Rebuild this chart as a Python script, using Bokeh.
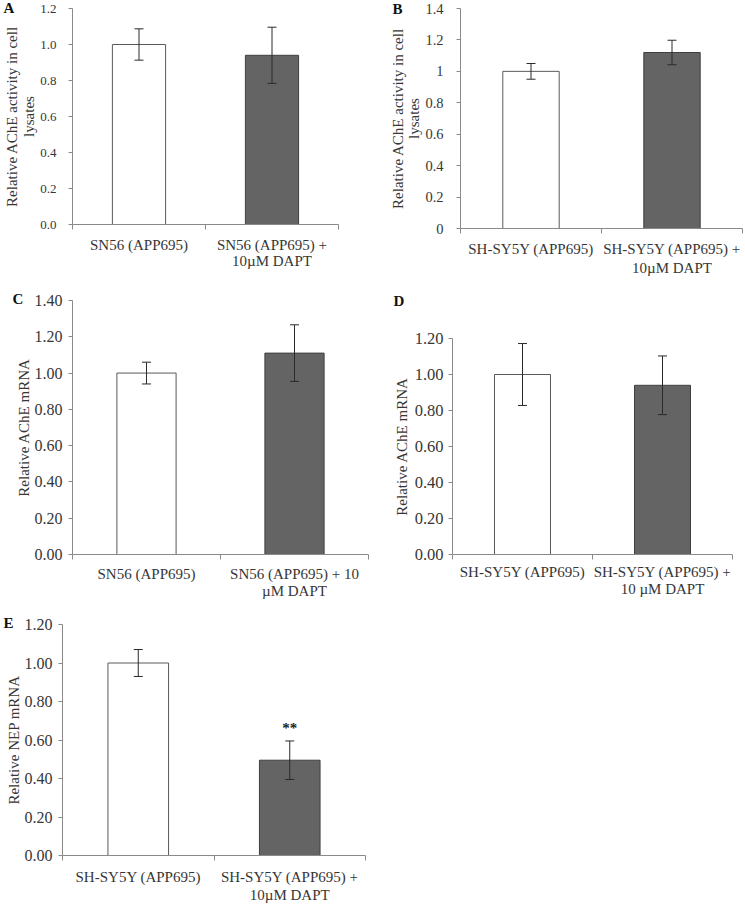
from bokeh.plotting import figure
from bokeh.layouts import column, row
from bokeh.models import (Range1d, FixedTicker, Whisker, TeeHead, ColumnDataSource,
                          PrintfTickFormatter, NumeralTickFormatter)
from bokeh.core.properties import value
from bokeh.embed import file_html
from bokeh.resources import INLINE

# ---------------- data ----------------
cats_a = ["SN56 (APP695)", "SN56 (APP695) +\n10µM DAPT"]
vals_a = [1.00, 0.94]
errs_a = [0.087, 0.156]
yticks_a = [0.0, 0.2, 0.4, 0.6, 0.8, 1.0, 1.2]

cats_b = ["SH-SY5Y (APP695)", "SH-SY5Y (APP695) +\n10µM DAPT"]
vals_b = [1.00, 1.12]
errs_b = [0.050, 0.078]
yticks_b = [0.0, 0.2, 0.4, 0.6, 0.8, 1.0, 1.2, 1.4]

cats_c = ["SN56 (APP695)", "SN56 (APP695) + 10\nµM DAPT"]
vals_c = [1.00, 1.11]
errs_c = [0.060, 0.156]
yticks_c = [0.0, 0.2, 0.4, 0.6, 0.8, 1.0, 1.2, 1.4]

cats_d = ["SH-SY5Y (APP695)", "SH-SY5Y (APP695) +\n10 µM DAPT"]
vals_d = [1.00, 0.94]
errs_d = [0.172, 0.163]
yticks_d = [0.0, 0.2, 0.4, 0.6, 0.8, 1.0, 1.2]

cats_e = ["SH-SY5Y (APP695)", "SH-SY5Y (APP695) +\n10µM DAPT"]
vals_e = [1.00, 0.495]
errs_e = [0.070, 0.100]
sig_e = ["", "**"]
yticks_e = [0.0, 0.2, 0.4, 0.6, 0.8, 1.0, 1.2]

bar_fills = ["#ffffff", "#646464"]
bar_lines = ["#5a5a5a", "#3f3f3f"]

FONT = "Liberation Serif"
AXIS_COL = "#8a8a8a"
TEXT_COL = "#363636"


def panel(letter, cats, vals, errs, yticks, ymax, ylabel, fmt, *,
          width, height, bl, br, bt, bb,
          tick_fs, tick_standoff, cat_fs, cat_lh, cat_standoff,
          ylab_lh, ylab_standoff, letter_offset, letter_standoff,
          sig=None):
    p = figure(width=width, height=height, output_backend="svg", toolbar_location=None,
               x_range=Range1d(0, len(cats)), y_range=Range1d(0, ymax),
               min_border_left=bl, min_border_right=br, min_border_top=bt,
               min_border_bottom=bb)
    p.outline_line_color = None
    p.xgrid.visible = False
    p.ygrid.visible = False
    p.background_fill_color = "white"
    p.border_fill_color = "white"

    # panel letter as title
    p.title.text = letter
    p.title.align = "left"
    p.title.vertical_align = "bottom"
    p.title.offset = letter_offset
    p.title.standoff = letter_standoff
    p.title.text_font = FONT
    p.title.text_font_size = "15px"
    p.title.text_font_style = "bold"
    p.title.text_color = "#111111"
    p.title.text_line_height = 1.0

    x = [i + 0.5 for i in range(len(cats))]
    src = ColumnDataSource(dict(x=x, top=vals, fill=bar_fills, line=bar_lines,
                                upper=[v + e for v, e in zip(vals, errs)],
                                lower=[v - e for v, e in zip(vals, errs)]))
    p.vbar(x="x", top="top", width=0.4, bottom=0, source=src,
           fill_color="fill", line_color="line", line_width=1)
    w = Whisker(base="x", upper="upper", lower="lower", source=src,
                line_color="#2a2a2a", line_width=1, level="annotation",
                upper_head=TeeHead(size=9, line_color="#2a2a2a", line_width=1),
                lower_head=TeeHead(size=9, line_color="#2a2a2a", line_width=1))
    p.add_layout(w)

    if sig is not None:
        ssrc = ColumnDataSource(dict(x=x, y=[v + e + 0.025 for v, e in zip(vals, errs)], t=sig))
        p.text(x="x", y="y", text="t", source=ssrc, text_align="center",
               text_baseline="bottom", text_font=value(FONT), text_font_size="15px",
               text_font_style="bold", text_color="#222222")

    # x axis
    xa = p.xaxis[0]
    xa.ticker = FixedTicker(ticks=x, minor_ticks=list(range(len(cats) + 1)))
    xa.major_label_overrides = {xi: c for xi, c in zip(x, cats)}
    xa.major_tick_out = 0
    xa.major_tick_in = 0
    xa.minor_tick_out = 5
    xa.minor_tick_in = 0
    xa.axis_line_color = AXIS_COL
    xa.minor_tick_line_color = AXIS_COL
    xa.major_label_text_font = FONT
    xa.major_label_text_font_size = cat_fs
    xa.major_label_text_color = TEXT_COL
    xa.major_label_text_line_height = cat_lh
    xa.major_label_standoff = cat_standoff

    # y axis
    ya = p.yaxis[0]
    ya.ticker = FixedTicker(ticks=yticks, minor_ticks=[])
    ya.formatter = fmt
    ya.major_tick_out = 4
    ya.major_tick_in = 0
    ya.minor_tick_out = 0
    ya.minor_tick_in = 0
    ya.axis_line_color = AXIS_COL
    ya.major_tick_line_color = AXIS_COL
    ya.major_label_text_font = FONT
    ya.major_label_text_font_size = tick_fs
    ya.major_label_text_color = TEXT_COL
    ya.major_label_standoff = tick_standoff
    ya.axis_label = ylabel
    ya.axis_label_text_font = FONT
    ya.axis_label_text_font_style = "normal"
    ya.axis_label_text_font_size = "15px"
    ya.axis_label_text_color = TEXT_COL
    ya.axis_label_text_line_height = ylab_lh
    ya.axis_label_standoff = ylab_standoff
    return p


pA = panel("A", cats_a, vals_a, errs_a, yticks_a, 1.2,
           "Relative AChE activity in cell\nlysates", PrintfTickFormatter(format="%.1f"),
           width=375, height=280, bl=71, br=37, bt=8, bb=56,
           tick_fs="13px", tick_standoff=12, cat_fs="15px", cat_lh=1.03, cat_standoff=7,
           ylab_lh=1.1, ylab_standoff=0, letter_offset=-69, letter_standoff=-14)

pB = panel("B", cats_b, vals_b, errs_b, yticks_b, 1.4,
           "Relative AChE activity in cell\nlysates", NumeralTickFormatter(format="0.[0]"),
           width=369, height=280, bl=85, br=2, bt=8, bb=52,
           tick_fs="14.5px", tick_standoff=13, cat_fs="15px", cat_lh=1.21, cat_standoff=7,
           ylab_lh=1.04, ylab_standoff=0, letter_offset=-68, letter_standoff=-16)

pC = panel("C", cats_c, vals_c, errs_c, yticks_c, 1.4,
           "Relative AChE mRNA", PrintfTickFormatter(format="%.2f"),
           width=375, height=325, bl=72, br=7, bt=20, bb=51,
           tick_fs="16px", tick_standoff=6, cat_fs="15px", cat_lh=1.09, cat_standoff=6,
           ylab_lh=1.0, ylab_standoff=0, letter_offset=-60, letter_standoff=-12)

pD = panel("D\n\n", cats_d, vals_d, errs_d, yticks_d, 1.2,
           "Relative AChE mRNA", PrintfTickFormatter(format="%.2f"),
           width=369, height=325, bl=77, br=12, bt=58, bb=51,
           tick_fs="16.5px", tick_standoff=5, cat_fs="15px", cat_lh=1.09, cat_standoff=4,
           ylab_lh=1.0, ylab_standoff=2, letter_offset=-59, letter_standoff=-5)

pE = panel("E", cats_e, vals_e, errs_e, yticks_e, 1.2,
           "Relative NEP mRNA", PrintfTickFormatter(format="%.2f"),
           width=375, height=300, bl=62, br=10, bt=19, bb=45,
           tick_fs="16px", tick_standoff=6, cat_fs="15px", cat_lh=1.15, cat_standoff=8,
           ylab_lh=1.0, ylab_standoff=0, letter_offset=-59, letter_standoff=-12,
           sig=sig_e)

layout = column(row(column(pA), column(pB)), row(column(pC), column(pD)), column(pE))
open("out.html", "w").write(file_html(layout, INLINE))
